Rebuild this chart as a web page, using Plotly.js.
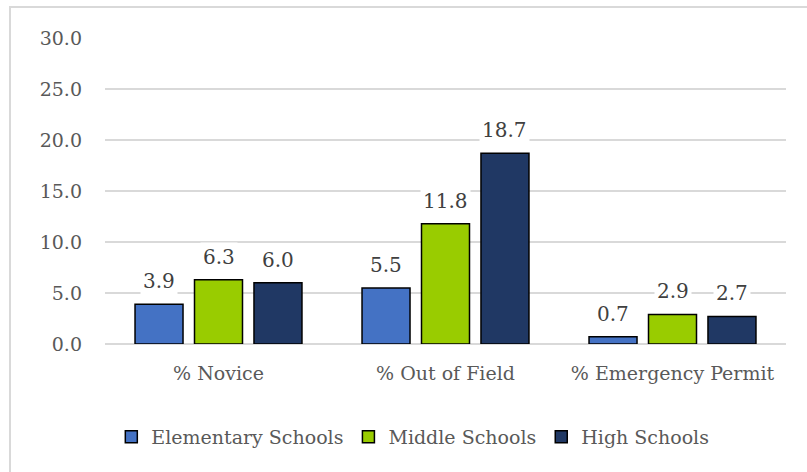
<!DOCTYPE html>
<html>
<head>
<meta charset="utf-8">
<script src="https://cdn.plot.ly/plotly-3.0.1.min.js"></script>
<style>
  html, body { margin: 0; padding: 0; background: #fff; overflow: hidden; }
  #wrap { position: relative; width: 807px; height: 472px; }
  #chart { width: 807px; height: 472px; }
  #frame { position: absolute; left: 9px; top: 6px; width: 830px; height: 500px;
           border: 2px solid #d9d9d9; pointer-events: none; box-sizing: border-box; }
</style>
</head>
<body>
<div id="wrap">
  <div id="chart"></div>
  <div id="frame"></div>
</div>
<script>
// Staffing indicators by school level (percent of teachers)
const categories = ['% Novice', '% Out of Field', '% Emergency Permit'];
const seriesNames = ['Elementary Schools', 'Middle Schools', 'High Schools'];
const elementary = [3.9, 5.5, 0.7];
const middle = [6.3, 11.8, 2.9];
const high = [6.0, 18.7, 2.7];
const seriesColors = ['#4472C4', '#99CC00', '#203864'];
const yTicks = [0, 5, 10, 15, 20, 25, 30];

const seriesValues = [elementary, middle, high];
const FONT = 'DejaVu Serif';
const TEXT_COLOR = '#595959';
const BAR_GAP = 0.214;
const BAR_GROUP_GAP = 0.193;

const traces = seriesValues.map((vals, i) => ({
  type: 'bar',
  name: seriesNames[i],
  x: categories,
  y: vals,
  marker: { color: seriesColors[i], line: { color: '#000000', width: 1.5 } },
  hoverinfo: 'skip'
}));

// Value labels sit over each bar; the slot offset follows the bar group geometry.
const slot = (1 - BAR_GAP) / seriesValues.length;
const annotations = [];
seriesValues.forEach((vals, s) => {
  vals.forEach((v, c) => {
    annotations.push({
      xref: 'x', yref: 'y',
      x: c + (s - (seriesValues.length - 1) / 2) * slot,
      y: v,
      text: v.toFixed(1),
      showarrow: false,
      yanchor: 'bottom',
      yshift: 8,
      bgcolor: '#ffffff',
      borderpad: 2,
      font: { family: FONT, size: 20, color: '#404040' }
    });
  });
});

const layout = {
  width: 807,
  height: 472,
  margin: { l: 105, r: 21, t: 38, b: 128 },
  paper_bgcolor: '#ffffff',
  plot_bgcolor: '#ffffff',
  barmode: 'group',
  bargap: BAR_GAP,
  bargroupgap: BAR_GROUP_GAP,
  font: { family: FONT, size: 19, color: TEXT_COLOR },
  xaxis: {
    type: 'category',
    showgrid: false,
    showline: false,
    zeroline: false,
    ticks: '',
    ticklabelstandoff: 16,
    tickfont: { family: FONT, size: 19, color: TEXT_COLOR },
    fixedrange: true
  },
  yaxis: {
    range: [0, 30],
    tickvals: yTicks,
    ticktext: yTicks.map(t => t.toFixed(1)),
    showgrid: true,
    gridcolor: '#d9d9d9',
    gridwidth: 1.5,
    zeroline: true,
    zerolinecolor: '#d9d9d9',
    zerolinewidth: 1.5,
    showline: false,
    ticks: '',
    ticklabelstandoff: 22,
    tickfont: { family: FONT, size: 19, color: TEXT_COLOR },
    fixedrange: true
  },
  legend: {
    orientation: 'h',
    x: 0.452,
    xanchor: 'center',
    y: -0.304,
    yanchor: 'middle',
    font: { family: FONT, size: 19, color: TEXT_COLOR },
    itemwidth: 30,
    tracegroupgap: 0
  },
  annotations: annotations,
  showlegend: true
};

Plotly.newPlot('chart', traces, layout, { displayModeBar: false, staticPlot: true });
</script>
</body>
</html>
